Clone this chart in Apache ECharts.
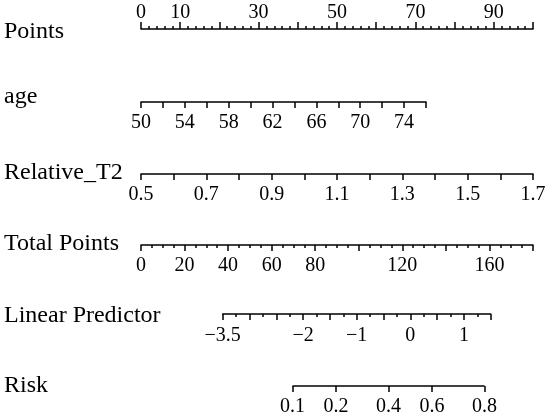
<!DOCTYPE html>
<html>
<head>
<meta charset="utf-8">
<script src="https://cdn.jsdelivr.net/npm/echarts@6/dist/echarts.min.js"></script>
<style>
html,body{margin:0;padding:0;background:#fff;}
#chart{width:550px;height:419px;}
</style>
</head>
<body>
<div id="chart"></div>
<script>
// ---- data ----
const rowTitles = ['Points', 'age', 'Relative_T2', 'Total Points', 'Linear Predictor', 'Risk'];
const pointsRange = [0, 100];
const pointsLabels = [0, 10, 30, 50, 70, 90];
const ageRange = [50, 76];
const ageLabels = [50, 54, 58, 62, 66, 70, 74];
const t2Range = [0.5, 1.7];
const t2Labels = [0.5, 0.7, 0.9, 1.1, 1.3, 1.5, 1.7];
const totalRange = [0, 180];
const totalLabels = [0, 20, 40, 60, 80, 120, 160];
const lpRange = [-3.5, 1.5];
const lpLabels = [-3.5, -2, -1, 0, 1];
const riskRange = [0.1, 0.8];
const riskLabels = [0.1, 0.2, 0.4, 0.6, 0.8];

// ---- layout ----
const FONT = 'Liberation Serif, Times New Roman, serif';
const lineY = [29, 102, 174, 245, 314, 386];
const titleTop = [20, 85, 161, 232, 304, 374];
const fullL = 141, fullR = 533;
const ageR = 426;
const lpL = 222.7, lpR = 490.7;

const logit = p => Math.log(p / (1 - p));
const fmtMinus = v => (v < 0 ? '\u2212' + String(Math.abs(v)) : String(v));

const BLACK = '#000';
const LW = 1.5;

function grid(i, l, r, top) {
  return {
    left: l, width: r - l,
    top: top ? lineY[i] : lineY[i] - 1,
    height: 1,
    containLabel: false,
    outerBoundsMode: 'none',
    show: false
  };
}

function baseAxis(i, range, opts) {
  const o = {
    type: 'value',
    gridIndex: i,
    min: range[0],
    max: range[1],
    position: opts.top ? 'top' : 'bottom',
    splitLine: { show: false },
    axisLine: { show: opts.noLine ? false : true, onZero: false, lineStyle: { color: BLACK, width: LW } },
    axisTick: { show: true, length: opts.tickLen || 6, lineStyle: { color: BLACK, width: LW } },
    axisLabel: {
      show: true,
      margin: opts.margin,
      color: BLACK,
      fontFamily: FONT,
      fontSize: 20,
      customValues: opts.labels,
      formatter: opts.formatter
    }
  };
  if (opts.interval != null) o.interval = opts.interval;
  if (opts.tickValues) o.axisTick.customValues = opts.tickValues;
  if (opts.minorSplit) {
    o.minorTick = { show: true, splitNumber: opts.minorSplit, length: opts.minorLen || 3, lineStyle: { color: BLACK, width: LW } };
  }
  return o;
}

const grids = [
  grid(0, fullL, fullR, true),
  grid(1, fullL, ageR, false),
  grid(2, fullL, fullR, false),
  grid(3, fullL, fullR, false),
  grid(4, lpL, lpR, false),
  grid(5, lpL, lpR, false)
];

const xAxes = [
  baseAxis(0, pointsRange, { top: true, interval: 10, minorSplit: 5, tickLen: 7, minorLen: 3, margin: 6, labels: pointsLabels, formatter: v => String(v) }),
  baseAxis(1, ageRange, { interval: 2, tickLen: 6, margin: 11, labels: ageLabels, formatter: v => String(v) }),
  baseAxis(2, t2Range, { interval: 0.1, tickLen: 6, margin: 11, labels: t2Labels, formatter: v => Number(v).toFixed(1) }),
  baseAxis(3, totalRange, { interval: 20, minorSplit: 4, tickLen: 6, minorLen: 3, margin: 11, labels: totalLabels, formatter: v => String(v) }),
  baseAxis(4, lpRange, { interval: 0.5, minorSplit: 2, tickLen: 6, minorLen: 3, margin: 12, labels: lpLabels, formatter: fmtMinus }),
  baseAxis(5, lpRange, { noLine: true, tickLen: 6, margin: 11,
    tickValues: riskLabels.map(logit),
    labels: riskLabels.map(logit),
    formatter: v => (1 / (1 + Math.exp(-v))).toFixed(1) })
];

const yAxes = grids.map((g, i) => ({ type: 'value', gridIndex: i, min: 0, max: 1, show: false }));

const titles = rowTitles.map((t, i) => ({
  text: t,
  left: 4,
  top: titleTop[i],
  padding: 0,
  textStyle: { fontFamily: FONT, fontSize: 24, fontWeight: 'normal', color: BLACK }
}));

const chart = echarts.init(document.getElementById('chart'), null, { renderer: 'canvas' });
chart.setOption({
  animation: false,
  backgroundColor: '#fff',
  title: titles,
  grid: grids,
  xAxis: xAxes,
  yAxis: yAxes,
  series: [{
    type: 'line',
    xAxisIndex: 5,
    yAxisIndex: 5,
    data: [[logit(riskRange[0]), 0], [logit(riskRange[1]), 0]],
    symbol: 'none',
    clip: false,
    silent: true,
    lineStyle: { color: BLACK, width: LW }
  }]
});
</script>
</body>
</html>
